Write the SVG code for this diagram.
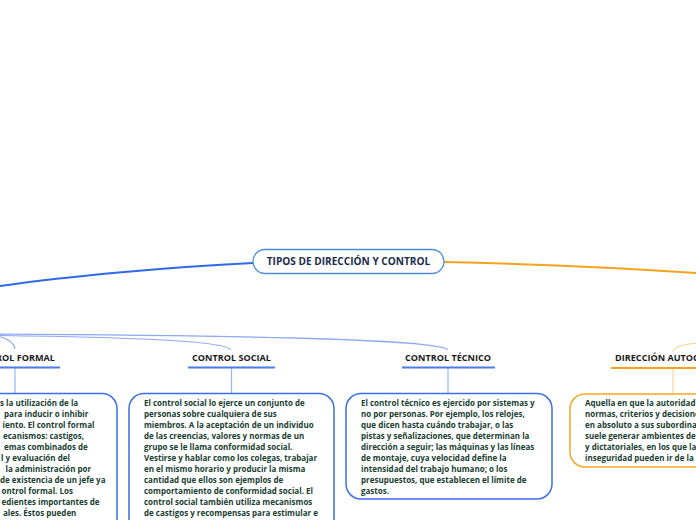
<svg xmlns="http://www.w3.org/2000/svg" width="696" height="520" viewBox="0 0 696 520">
<style>
.body{font-family:"Open Sans","Noto Sans","Liberation Sans",sans-serif;font-size:8px;font-weight:700;fill:#17402f}
.lbl{font-family:"Open Sans","Noto Sans","Liberation Sans",sans-serif;font-size:9.1px;font-weight:700;fill:#1a1a1a}
.ctr{font-family:"Open Sans","Noto Sans","Liberation Sans",sans-serif;font-size:10.1px;font-weight:700;fill:#1c2b4c}
.bbox{fill:#fff;stroke:#3b6ee8;stroke-width:1.5}
.obox{fill:#fff;stroke:#f6a623;stroke-width:1.5}
.bul{stroke:#4a7cec;stroke-width:2}
.oul{stroke:#f6a21e;stroke-width:2}
.bv{stroke:#9ab4f4;stroke-width:1.2;fill:none}
.ov{stroke:#fcd39a;stroke-width:1.2;fill:none}
.bthin{stroke:#8ea9f3;stroke-width:1.1;fill:none}
.othin{stroke:#fbcf90;stroke-width:1.1;fill:none}
</style>
<rect width="696" height="520" fill="#fff"/>
<g id="connectors">
<path d="M253,263 C170,267 70,276 0,286" stroke="#2f6ae6" stroke-width="2" fill="none"/>
<path d="M444,262 C530,264 620,268 696,273" stroke="#f7a21b" stroke-width="2" fill="none"/>
<path class="bthin" d="M-30,333 C0,334 14,340 15,349"/>
<path class="bthin" d="M-30,335 C120,337 224,340 231,350"/>
<path class="bthin" d="M-30,334 C200,335 438,338 448,350"/>
<path class="othin" d="M700,343 C684,344 674,347 673,352"/>
<line class="bv" x1="15" y1="368" x2="15" y2="393"/>
<line class="bv" x1="231.5" y1="368" x2="231.5" y2="393"/>
<line class="bv" x1="448" y1="368" x2="448" y2="393"/>
<line class="ov" x1="673" y1="369" x2="673" y2="393"/>
</g>
<g id="central">
<rect x="253" y="249.5" width="191" height="24" rx="12" fill="#fff" stroke="#4a90d9" stroke-width="1.3"/>
<text class="ctr" x="348.5" y="265" text-anchor="middle">TIPOS DE DIRECCIÓN Y CONTROL</text>
</g>
<g id="control-formal">
<text class="lbl" x="55" y="361" text-anchor="end">ROL FORMAL</text>
<line class="bul" x1="-2" y1="367.5" x2="60" y2="367.5"/>
<rect class="bbox" x="-100" y="393.5" width="217" height="160" rx="15"/>
<text class="body"><tspan x="0" y="406">s la utilización de la</tspan><tspan x="4" y="417">para inducir o inhibir</tspan><tspan x="2.5" y="428">iento. El control formal</tspan><tspan x="3" y="439">ecanismos: castigos,</tspan><tspan x="4" y="450">emas combinados de</tspan><tspan x="1" y="461">l y evaluación del</tspan><tspan x="5.5" y="472">la administración por</tspan><tspan x="0" y="483">de existencia de un jefe ya</tspan><tspan x="1.5" y="494">ontrol formal. Los</tspan><tspan x="1.5" y="505">edientes importantes de</tspan><tspan x="3" y="516">ales. Éstos pueden</tspan></text>
</g>
<g id="control-social">
<text class="lbl" x="231.5" y="361" text-anchor="middle">CONTROL SOCIAL</text>
<line class="bul" x1="188" y1="367.5" x2="275" y2="367.5"/>
<rect class="bbox" x="129" y="393.5" width="205" height="160" rx="15"/>
<text class="body"><tspan x="144" y="406">El control social lo ejerce un conjunto de</tspan><tspan x="144" y="417">personas sobre cualquiera de sus</tspan><tspan x="144" y="428">miembros.  A la aceptación de un individuo</tspan><tspan x="144" y="439">de las creencias, valores y normas de un</tspan><tspan x="144" y="450">grupo se le llama conformidad social.</tspan><tspan x="144" y="461">Vestirse y hablar como los colegas, trabajar</tspan><tspan x="144" y="472">en el mismo horario y producir la misma</tspan><tspan x="144" y="483">cantidad que ellos son ejemplos de</tspan><tspan x="144" y="494">comportamiento de conformidad social. El</tspan><tspan x="144" y="505">control social también utiliza mecanismos</tspan><tspan x="144" y="516">de castigos y recompensas para estimular e</tspan></text>
</g>
<g id="control-tecnico">
<text class="lbl" x="448" y="361" text-anchor="middle">CONTROL TÉCNICO</text>
<line class="bul" x1="402" y1="367.5" x2="495" y2="367.5"/>
<rect class="bbox" x="346" y="393.5" width="206" height="105.5" rx="15"/>
<text class="body"><tspan x="361" y="406">El control técnico es ejercido por sistemas y</tspan><tspan x="361" y="417">no por personas.  Por ejemplo, los relojes,</tspan><tspan x="361" y="428">que dicen hasta cuándo trabajar, o las</tspan><tspan x="361" y="439">pistas y señalizaciones, que determinan la</tspan><tspan x="361" y="450">dirección a seguir; las máquinas y las líneas</tspan><tspan x="361" y="461">de montaje, cuya velocidad define la</tspan><tspan x="361" y="472">intensidad del trabajo humano; o los</tspan><tspan x="361" y="483">presupuestos, que establecen el límite de</tspan><tspan x="361" y="494">gastos.</tspan></text>
</g>
<g id="direccion-autocratica">
<text class="lbl" x="615" y="361">DIRECCIÓN AUTOC</text>
<line class="oul" x1="611" y1="368" x2="700" y2="368"/>
<rect class="obox" x="570" y="394" width="200" height="73" rx="15"/>
<text class="body"><tspan x="585" y="406">Aquella en que la autoridad</tspan><tspan x="585" y="417">normas, criterios y decisione</tspan><tspan x="585" y="428">en absoluto a sus subordina</tspan><tspan x="585" y="439">suele generar ambientes de</tspan><tspan x="585" y="450">y dictatoriales, en los que la</tspan><tspan x="585" y="461">inseguridad pueden ir de la</tspan></text>
</g>
</svg>
